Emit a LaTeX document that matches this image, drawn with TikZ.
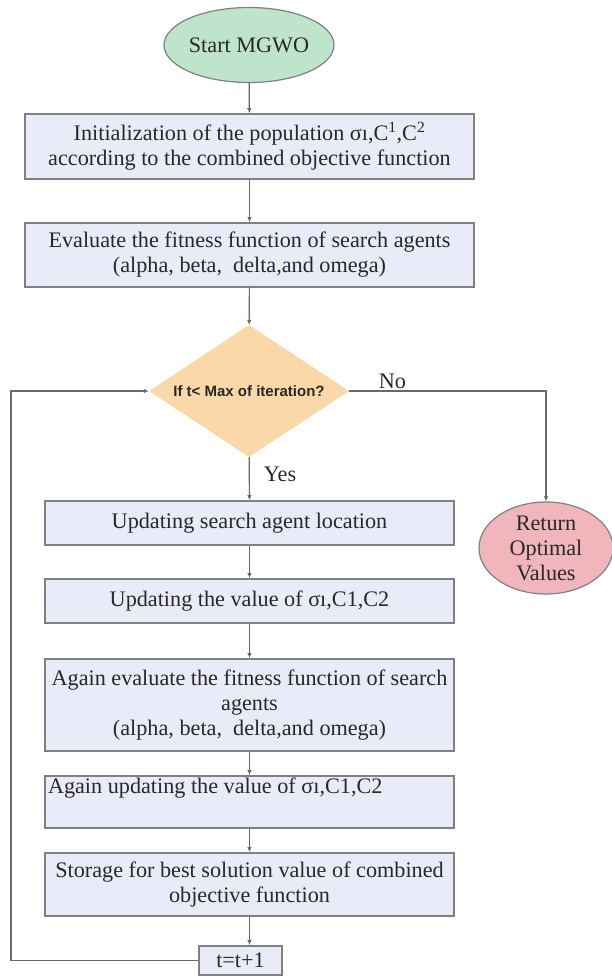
\documentclass[tikz,border=0pt]{standalone}
\usepackage{fontspec}
\setmainfont{Liberation Serif}
\newfontfamily\decfont{Liberation Sans}
\usetikzlibrary{shapes.geometric,arrows.meta}
\definecolor{boxfill}{RGB}{233,236,248}
\definecolor{boxline}{RGB}{128,128,128}
\definecolor{startfill}{RGB}{190,228,204}
\definecolor{retfill}{RGB}{240,182,188}
\definecolor{decfill}{RGB}{250,216,168}
\definecolor{wire}{RGB}{105,105,105}
\definecolor{ink}{RGB}{40,40,40}

\begin{document}
\begin{tikzpicture}[x=1pt,y=-1pt,font=\fontsize{22.2}{25}\selectfont,text=ink,
  procbox/.style={draw=boxline,line width=1.6pt,fill=boxfill,inner sep=0pt,align=center},
  term/.style={draw=boxline,line width=1.2pt,ellipse,inner sep=0pt,align=center},
  flow/.style={draw=wire,line width=1.2pt,-{Latex[length=5pt,width=4.5pt]}},
  lbl/.style={inner sep=2pt}]
\useasboundingbox (0,0) rectangle (611,977);

\node[term,fill=startfill,minimum width=141,minimum height=75] (start) at (249,45) {Start MGWO};
\node[procbox,minimum width=449,minimum height=65] (init) at (249.5,146.5)
  {Initialization of the population σı,C\textsuperscript{1},C\textsuperscript{2}\\according to the combined objective function};
\node[procbox,minimum width=449,minimum height=64] (eval) at (249.5,255)
  {Evaluate the fitness function of search agents\\(alpha, beta,\ \ delta,and omega)};
\node[diamond,fill=decfill,aspect=1.5,inner sep=0pt,minimum width=200,minimum height=132,
  font=\decfont\bfseries\fontsize{15}{16}\selectfont] (cond) at (249,391) {If t< Max of iteration?};
\node[term,fill=retfill,minimum width=134,minimum height=92] (ret) at (546,548) {Return\\Optimal\\Values};
\node[procbox,minimum width=409,minimum height=44] (upd1) at (249.5,523) {Updating search agent location};
\node[procbox,minimum width=409,minimum height=44] (upd2) at (249.5,601) {Updating the value of σı,C1,C2};
\node[procbox,minimum width=409,minimum height=92] (again) at (249.5,705)
  {Again evaluate the fitness function of search\\agents\\(alpha, beta,\ \ delta,and omega)};
\node[procbox,minimum width=409,minimum height=52] (upd3) at (249.5,802)
  {\makebox[403pt][l]{Again updating the value of σı,C1,C2}\\\strut};
\node[procbox,minimum width=409,minimum height=63] (store) at (249.5,884.5)
  {Storage for best solution value of combined\\objective function};
\node[procbox,minimum width=83,minimum height=29] (tstep) at (240.5,960.5) {t=t+1};
\coordinate (loop) at (11,0);

\draw[flow] (start) -- (init);
\draw[flow] (init) -- (eval);
\draw[flow] (eval) -- (cond);
\draw[flow] (cond) -- node[lbl,pos=0.4,right=12pt] {Yes} (upd1);
\draw[flow] (cond.east) -| node[lbl,pos=0.11,above] {No} (ret.north);
\draw[flow] (upd1) -- (upd2);
\draw[flow] (upd2) -- (again);
\draw[flow] (again) -- (upd3);
\draw[flow] (upd3) -- (store);
\draw[flow] (store.south) -- (store.south |- tstep.north);
\draw[flow] (tstep.west) -| (loop |- cond.west) -- (cond.west);
\end{tikzpicture}
\end{document}
